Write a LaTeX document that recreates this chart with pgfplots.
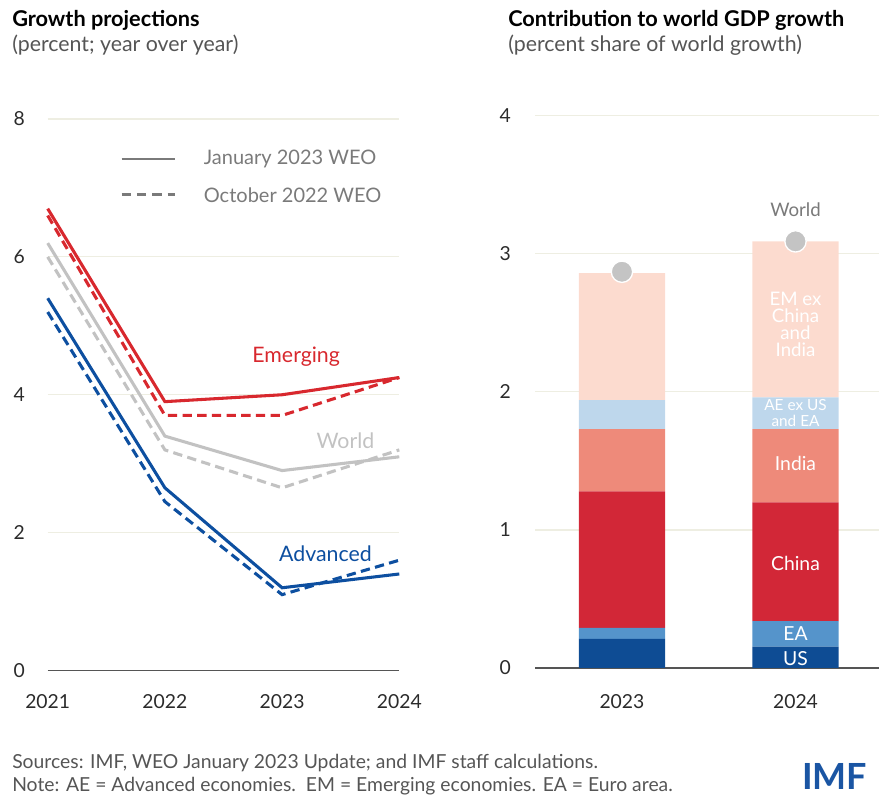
\documentclass[border=0pt]{standalone}
\usepackage{fontspec}
\setmainfont{Lato}
\usepackage{pgfplots}
\pgfplotsset{compat=1.18}
\definecolor{emred}{HTML}{D8282E}
\definecolor{advblue}{HTML}{0D4FA0}
\definecolor{wgray}{HTML}{C2C2C2}
\definecolor{leggray}{HTML}{7A7A7A}
\definecolor{gridc}{HTML}{EEEEE2}
\definecolor{zeroc}{HTML}{555555}
\definecolor{tickc}{HTML}{2B2B2B}
\definecolor{cUS}{HTML}{0E4C94}
\definecolor{cEA}{HTML}{5594CB}
\definecolor{cCN}{HTML}{D22737}
\definecolor{cIN}{HTML}{EE8A7A}
\definecolor{cAE}{HTML}{BED7EC}
\definecolor{cEM}{HTML}{FCDBCF}
\definecolor{dotc}{HTML}{C4C4C4}
\definecolor{foot}{HTML}{555555}
\definecolor{imfblue}{HTML}{1A55A3}
\begin{document}
\begin{tikzpicture}[x=0.75pt,y=-0.75pt]
\useasboundingbox (0,0) rectangle (879,798);
% titles
\node[anchor=base west, inner sep=0] at (12,27) {\fontsize{16.3}{18}\selectfont\bfseries Growth projections};
\node[anchor=base west, inner sep=0, text=foot] at (12,52) {\fontsize{16}{18}\selectfont (percent; year over year)};
\node[anchor=base west, inner sep=0] at (508,27) {\fontsize{16.3}{18}\selectfont\bfseries Contribution to world GDP growth};
\node[anchor=base west, inner sep=0, text=foot] at (508,52) {\fontsize{16}{18}\selectfont (percent share of world growth)};
% footer
\node[anchor=base west, inner sep=0, text=foot] at (12,768) {\fontsize{14.5}{16}\selectfont Sources: IMF, WEO January 2023 Update; and IMF staff calculations.};
\node[anchor=base west, inner sep=0, text=foot] at (12,791) {\fontsize{14.5}{16}\selectfont Note: AE = Advanced economies.\ \ EM = Emerging economies. EA = Euro area.};
\node[anchor=base west, inner sep=0, text=imfblue] at (802,789) {\fontsize{27}{28}\selectfont\bfseries IMF};
\end{tikzpicture}%
\hspace{-659.25pt}%
\begin{tikzpicture}
\useasboundingbox (0,0) rectangle (659.25pt,598.5pt);
% ---------------- left panel ----------------
\begin{axis}[
  at={(35.775pt,95.625pt)}, anchor=south west,
  scale only axis, width=263.7pt, height=413.6pt,
  xmin=2021, xmax=2024, ymin=0, ymax=8,
  clip=false,
  axis line style={draw=none},
  major tick length=0pt,
  xtick={2021,2022,2023,2024}, xticklabels={2021,2022,2023,2024},
  ytick={2,4,6,8},
  extra y ticks={0},
  extra y tick style={grid style={color=zeroc, line width=1.4pt}},
  ymajorgrids, grid style={color=gridc, line width=0.9pt},
  /pgf/number format/assume math mode=true,
  ticklabel style={font=\fontsize{14.5}{16}\selectfont, text=tickc},
  yticklabel style={inner sep=0pt, xshift=-17pt, anchor=east},
  xticklabel style={inner sep=0pt, yshift=-18pt, anchor=north},
]
% Emerging
\addplot[emred, line width=2.3pt, line join=miter] coordinates {(2021,6.7) (2022,3.9) (2023,4.0) (2024,4.25)};
\addplot[emred, line width=2.3pt, dash pattern=on 7pt off 4pt] coordinates {(2021,6.6) (2022,3.7) (2023,3.7) (2024,4.25)};
% World
\addplot[wgray, line width=2.3pt] coordinates {(2021,6.2) (2022,3.4) (2023,2.9) (2024,3.1)};
\addplot[wgray, line width=2.3pt, dash pattern=on 7pt off 4pt] coordinates {(2021,6.0) (2022,3.2) (2023,2.65) (2024,3.2)};
% Advanced
\addplot[advblue, line width=2.3pt] coordinates {(2021,5.4) (2022,2.65) (2023,1.2) (2024,1.4)};
\addplot[advblue, line width=2.3pt, dash pattern=on 7pt off 4pt] coordinates {(2021,5.2) (2022,2.45) (2023,1.1) (2024,1.6)};
% labels
\node[text=emred, font=\fontsize{16}{18}\selectfont] at (axis cs:2023.12,4.55) {Emerging};
\node[text=wgray, font=\fontsize{16}{18}\selectfont] at (axis cs:2023.54,3.33) {World};
\node[text=advblue, font=\fontsize{16}{18}\selectfont] at (axis cs:2023.37,1.69) {Advanced};
% legend keys
\draw[leggray, line width=2.2pt] (axis cs:2021.63,7.42) -- (axis cs:2022.09,7.42);
\draw[leggray, line width=2.2pt, dash pattern=on 7pt off 4.5pt] (axis cs:2021.63,6.90) -- (axis cs:2022.09,6.90);
\node[anchor=west, inner sep=0, text=leggray, font=\fontsize{15}{16}\selectfont] at (axis cs:2022.33,7.42) {January 2023 WEO};
\node[anchor=west, inner sep=0, text=leggray, font=\fontsize{15}{16}\selectfont] at (axis cs:2022.33,6.90) {October 2022 WEO};
\end{axis}

% ---------------- right panel ----------------
\begin{axis}[
  at={(401.25pt,97.5pt)}, anchor=south west,
  scale only axis, width=258pt, height=414.2pt,
  xmin=-0.501, xmax=1.481, ymin=0, ymax=4,
  axis line style={draw=none},
  major tick length=0pt,
  xtick={0,1}, xticklabels={2023,2024},
  ytick={1,2,3,4},
  extra y ticks={0},
  extra y tick style={grid style={color=zeroc, line width=1.4pt}},
  ymajorgrids, grid style={color=gridc, line width=0.9pt},
  /pgf/number format/assume math mode=true,
  ticklabel style={font=\fontsize{14.5}{16}\selectfont, text=tickc},
  yticklabel style={inner sep=0pt, xshift=-18pt, anchor=east},
  xticklabel style={inner sep=0pt, yshift=-20pt, anchor=north},
  ybar stacked, bar width=0.496,
]
\addplot[fill=cUS, draw=none] coordinates {(0,0.21) (1,0.155)};
\addplot[fill=cEA, draw=none] coordinates {(0,0.08) (1,0.185)};
\addplot[fill=cCN, draw=none] coordinates {(0,0.99) (1,0.86)};
\addplot[fill=cIN, draw=none] coordinates {(0,0.45) (1,0.53)};
\addplot[fill=cAE, draw=none] coordinates {(0,0.21) (1,0.23)};
\addplot[fill=cEM, draw=none] coordinates {(0,0.92) (1,1.13)};
\end{axis}
\begin{axis}[
  at={(401.25pt,97.5pt)}, anchor=south west,
  scale only axis, width=258pt, height=414.2pt,
  xmin=-0.501, xmax=1.481, ymin=0, ymax=4,
  hide axis, clip=false,
]
\addplot[only marks, mark=*, mark size=8pt, mark options={fill=dotc, draw=white, line width=1pt}] coordinates {(0,2.87) (1,3.09)};
\node[text=leggray, font=\fontsize{14}{16}\selectfont] at (axis cs:1,3.32) {World};
\node[text=white, font=\fontsize{14}{12.6}\selectfont, align=center] at (axis cs:1,2.49) {EM ex\\China\\and\\India};
\node[text=white, font=\fontsize{11.5}{12}\selectfont, align=center, inner sep=0pt] at (axis cs:1,1.85) {AE ex US\\and EA};
\node[text=white, font=\fontsize{14.5}{16}\selectfont] at (axis cs:1,1.48) {India};
\node[text=white, font=\fontsize{14.5}{16}\selectfont] at (axis cs:1,0.76) {China};
\node[text=white, font=\fontsize{14.5}{16}\selectfont] at (axis cs:1,0.25) {EA};
\node[text=white, font=\fontsize{14.5}{16}\selectfont] at (axis cs:1,0.07) {US};
\end{axis}
\end{tikzpicture}
\end{document}
